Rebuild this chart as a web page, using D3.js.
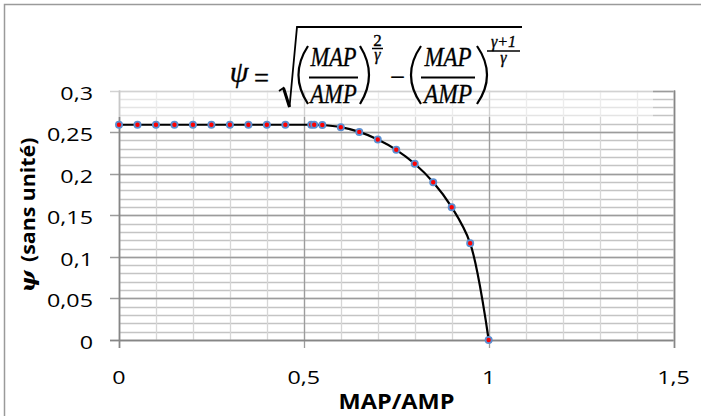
<!DOCTYPE html>
<html>
<head>
<meta charset="utf-8">
<script src="https://cdn.jsdelivr.net/npm/d3@7"></script>
<style>
  html, body { margin: 0; padding: 0; background: #fff; }
  svg { display: block; }
</style>
</head>
<body>
<div id="chart"></div>
<script>
// ---- data ----
const ratio = [0, 0.05, 0.1, 0.15, 0.2, 0.25, 0.3, 0.35, 0.4, 0.45,
               0.52, 0.528, 0.55, 0.6, 0.65, 0.7, 0.75, 0.8, 0.85, 0.9, 0.95, 1];
const psi = [0.2588, 0.2588, 0.2588, 0.2588, 0.2588, 0.2588, 0.2588, 0.2588, 0.2588, 0.2588,
             0.2588, 0.2588, 0.2585, 0.2559, 0.2502, 0.2411, 0.2287, 0.2119, 0.1897, 0.1597, 0.1163, 0];
const xTicks = [0, 0.5, 1, 1.5];
const xTickLabels = ["0", "0,5", "1", "1,5"];
const yTicks = [0, 0.05, 0.1, 0.15, 0.2, 0.25, 0.3];
const yTickLabels = ["0", "0,05", "0,1", "0,15", "0,2", "0,25", "0,3"];
const xMinor = d3.range(0, 16).map(i => i / 10);
const yMinor = d3.range(0, 31).map(i => i / 100);
const xTitle = "MAP/AMP";
const yTitle = "(sans unité)";

// ---- layout ----
const W = 701, H = 416;
const svg = d3.select("#chart").append("svg").attr("width", W).attr("height", H);

const x = d3.scaleLinear().domain([0, 1.5]).range([119, 673.5]);
const y = d3.scaleLinear().domain([0, 0.3]).range([340, 90.5]);

function fitWidth(sel, target) {
  const w = sel.node().getBBox().width;
  return w > 0 ? target / w : 1;
}

// outer border (only top/left visible)
svg.append("rect").attr("x", 4.5).attr("y", 4.5).attr("width", 720).attr("height", 440)
  .attr("fill", "none").attr("stroke", "#9a9a9a").attr("stroke-width", 1.5);

const grid = svg.append("g");
grid.selectAll("line.hmin").data(yMinor).join("line")
  .attr("x1", x(0)).attr("x2", x(1.5))
  .attr("y1", d => Math.round(y(d)) + 0.5).attr("y2", d => Math.round(y(d)) + 0.5)
  .attr("stroke", "#c4c4c4").attr("stroke-width", 1.3);
grid.selectAll("line.vmin").data(xMinor).join("line")
  .attr("y1", y(0)).attr("y2", y(0.3))
  .attr("x1", d => Math.round(x(d)) + 0.5).attr("x2", d => Math.round(x(d)) + 0.5)
  .attr("stroke", "#d6d6d6").attr("stroke-width", 1.3);
grid.selectAll("line.hmaj").data(yTicks).join("line")
  .attr("x1", x(0) - 9).attr("x2", x(1.5))
  .attr("y1", d => Math.round(y(d)) + 0.5).attr("y2", d => Math.round(y(d)) + 0.5)
  .attr("stroke", "#9c9c9c").attr("stroke-width", 1.3);
grid.selectAll("line.vmaj").data(xTicks).join("line")
  .attr("y1", y(0) + 8).attr("y2", y(0.3))
  .attr("x1", d => Math.round(x(d)) + 0.5).attr("x2", d => Math.round(x(d)) + 0.5)
  .attr("stroke", "#9c9c9c").attr("stroke-width", 1.3);
svg.append("line").attr("x1", x(0) + 0.5).attr("x2", x(0) + 0.5).attr("y1", y(0) + 8).attr("y2", y(0.3))
  .attr("stroke", "#868686").attr("stroke-width", 1.6);
svg.append("line").attr("x1", x(0) - 9).attr("x2", x(1.5)).attr("y1", Math.round(y(0)) + 0.5).attr("y2", Math.round(y(0)) + 0.5)
  .attr("stroke", "#868686").attr("stroke-width", 1.6);
svg.append("line").attr("x1", Math.round(x(1.5)) + 0.5).attr("x2", Math.round(x(1.5)) + 0.5).attr("y1", y(0) + 8).attr("y2", y(0.3))
  .attr("stroke", "#868686").attr("stroke-width", 1.6);

// semi-transparent equation box
svg.append("rect").attr("x", 100).attr("y", 18).attr("width", 553).attr("height", 99)
  .attr("fill", "#fff").attr("opacity", 0.55);

// tick labels
const tickFont = "'Open Sans', 'Liberation Sans', sans-serif";
const yLab = svg.append("g").selectAll("text").data(yTicks).join("text")
  .attr("text-anchor", "end")
  .attr("font-family", tickFont).attr("font-size", 19).attr("fill", "#000")
  .text((d, i) => yTickLabels[i]);
const sxTick = fitWidth(yLab.filter((d, i) => i === 5), 46);
yLab.attr("transform", d => `translate(93,${y(d) + 9}) scale(${sxTick},1)`);
svg.append("g").selectAll("text").data(xTicks).join("text")
  .attr("transform", d => `translate(${x(d)},383.5) scale(${sxTick},1)`)
  .attr("text-anchor", "middle")
  .attr("font-family", tickFont).attr("font-size", 19).attr("fill", "#000")
  .text((d, i) => xTickLabels[i]);

// axis titles
const xt = svg.append("text")
  .attr("text-anchor", "middle")
  .attr("font-family", tickFont).attr("font-size", 21).attr("font-weight", "bold")
  .text(xTitle);
xt.attr("transform", `translate(396.5,408.5) scale(${fitWidth(xt, 116)},1)`);
const yt = svg.append("text")
  .attr("text-anchor", "middle")
  .attr("font-family", tickFont).attr("font-size", 19).attr("font-weight", "bold");
yt.append("tspan").attr("font-family", "'DejaVu Serif', serif").attr("font-style", "italic").attr("font-size", 21).text("ψ ");
yt.append("tspan").text(yTitle);
yt.attr("transform", `translate(35,215) rotate(-90) scale(${fitWidth(yt, 155)},1)`);

// curve
const line = d3.line().x((d, i) => x(ratio[i])).y(d => y(d)).curve(d3.curveCatmullRom.alpha(0.5));
svg.append("path").attr("d", line(psi)).attr("fill", "none")
  .attr("stroke", "#000").attr("stroke-width", 2.2);

svg.append("g").selectAll("circle").data(psi).join("circle")
  .attr("cx", (d, i) => x(ratio[i])).attr("cy", d => y(d)).attr("r", 3.1)
  .attr("fill", "#ff0000").attr("stroke", "#5b8ed0").attr("stroke-width", 1.8);

// ---- equation ----
const eq = svg.append("g").attr("font-family", "'Liberation Serif', 'Times New Roman', serif")
  .attr("fill", "#000").attr("stroke", "#000").attr("stroke-width", 0.35);
const it = (t, cx, by, fs, italic = true, target = null) => {
  const s = eq.append("text").attr("text-anchor", "middle").attr("font-size", fs)
    .attr("font-style", italic ? "italic" : "normal").text(t);
  const k = target ? fitWidth(s, target) : 1;
  s.attr("transform", `translate(${cx},${by}) scale(${k},1)`);
  return s;
};
const stack = (num, numItalic, numFs, den, cx, yNum, yDen) => {
  const s = eq.append("text").attr("text-anchor", "middle");
  s.append("tspan").attr("x", cx).attr("y", yNum).attr("font-size", numFs)
    .attr("font-style", numItalic ? "italic" : "normal").text(num);
  s.append("tspan").attr("x", cx).attr("y", yDen).attr("font-size", 16)
    .attr("font-style", "italic").text(den);
  return s;
};
const ln = (x1, y1, x2, y2, w) => eq.append("line").attr("x1", x1).attr("y1", y1).attr("x2", x2).attr("y2", y2)
  .attr("stroke", "#000").attr("stroke-width", w);
const paren = (xe, xm) => eq.append("path")
  .attr("d", `M${xe},46 Q${2 * xm - xe},75 ${xe},104`)
  .attr("fill", "none").attr("stroke", "#000").attr("stroke-width", 2.2);

it("ψ", 239, 82, 30, true, 20);
it("=", 261.5, 87, 27, false, 15);
// radical
eq.append("path").attr("d", "M279,91 L283.5,88 L289.5,107 L297,27 L522,27")
  .attr("fill", "none").attr("stroke", "#000").attr("stroke-width", 1.8).attr("stroke-linejoin", "miter");
ln(283.5, 88, 289.5, 107, 3);
// first term
paren(308, 298.5);
it("MAP", 333.5, 65.5, 27, true, 47);
ln(309, 77.5, 358, 77.5, 1.8);
it("AMP", 333.5, 102.5, 27, true, 48);
paren(360, 369);
stack("2", false, 17, "γ", 377.5, 46, 59.5);
ln(372, 48.5, 383, 48.5, 1.5);
// minus
it("−", 397.5, 86, 27, false, 15);
// second term
paren(421, 411);
it("MAP", 448, 65.5, 27, true, 48);
ln(421, 77.5, 475, 77.5, 1.8);
it("AMP", 448, 102.5, 27, true, 50);
paren(477, 487);
stack("γ+1", true, 16, "γ", 503.5, 47, 63);
ln(487, 51, 520, 51, 1.5);
</script>
</body>
</html>
